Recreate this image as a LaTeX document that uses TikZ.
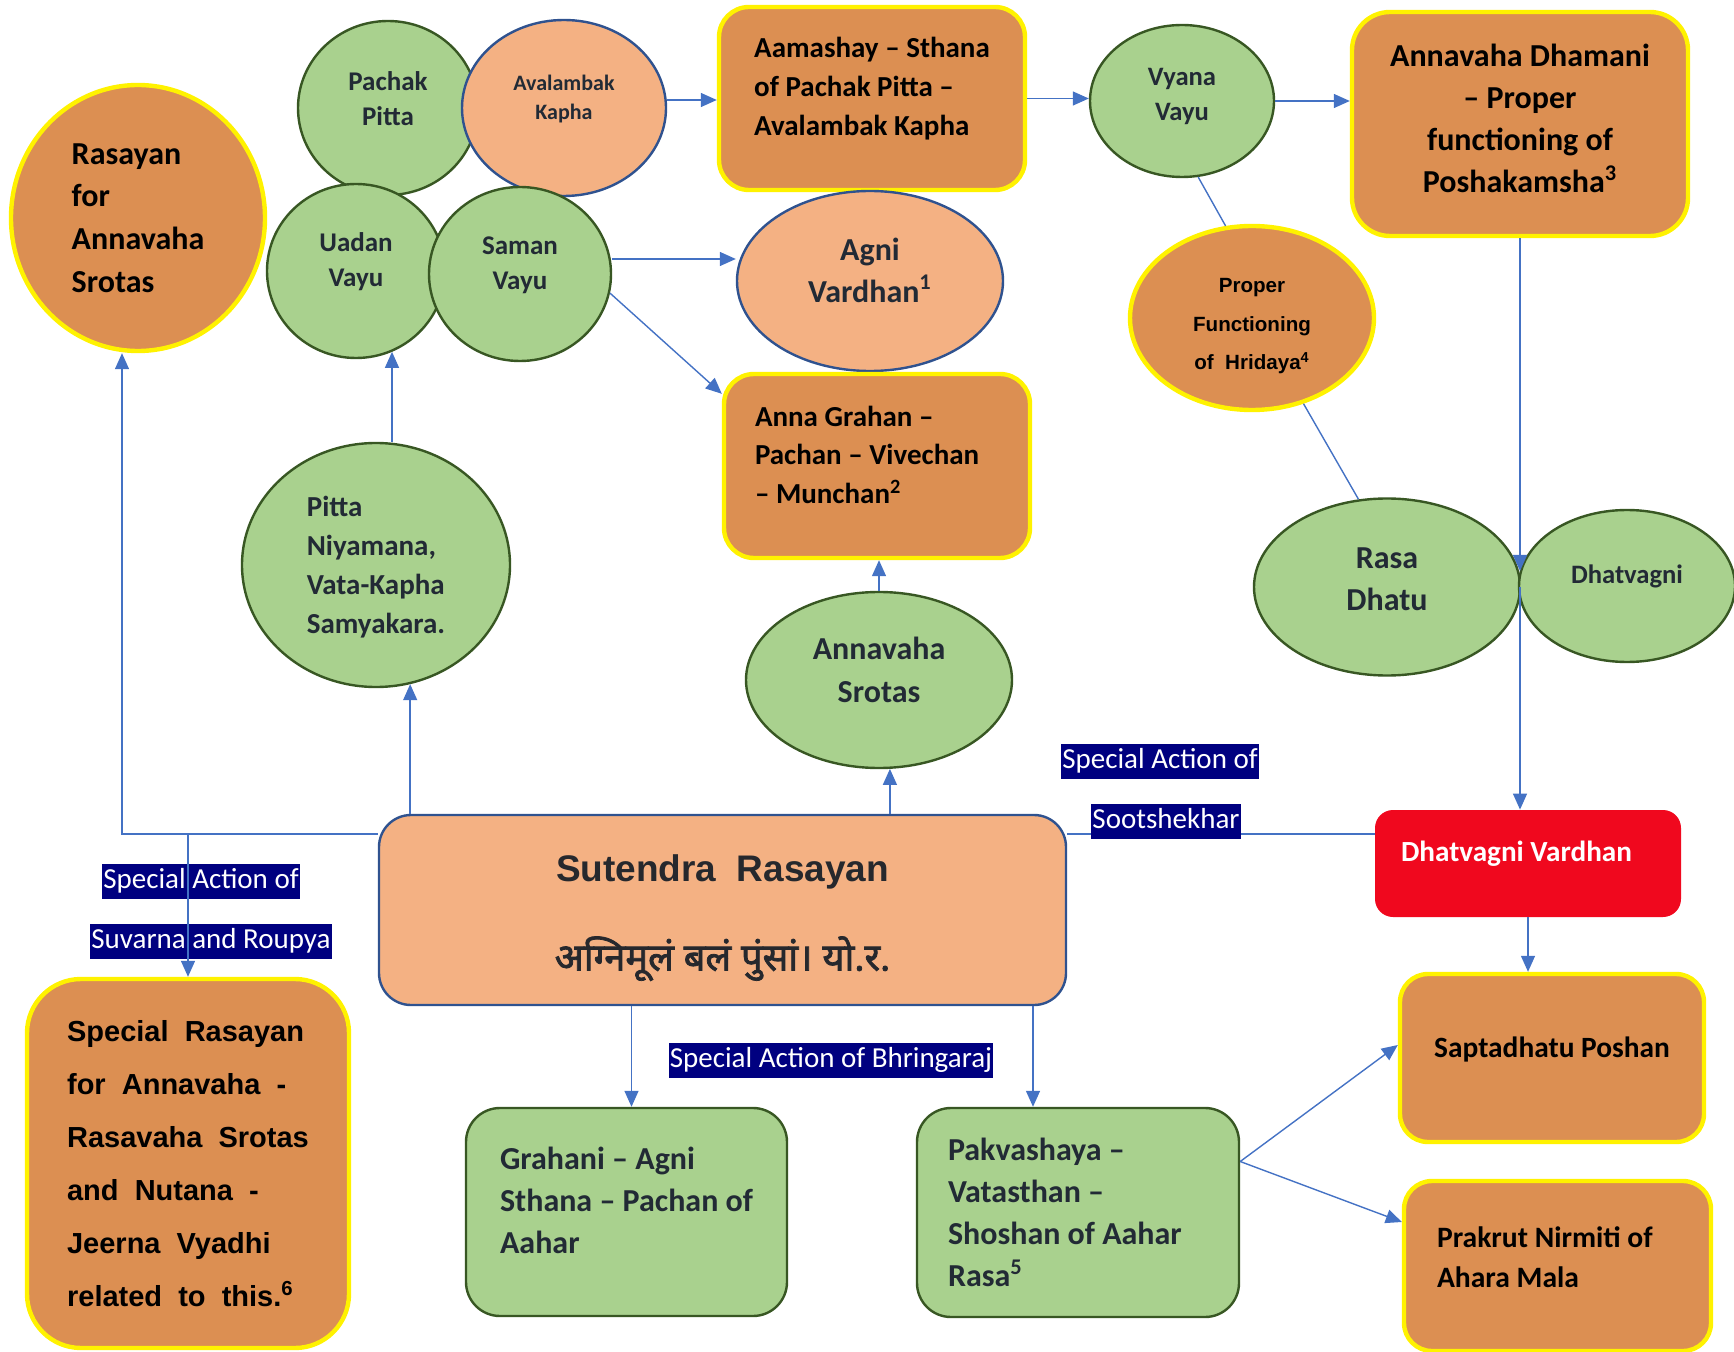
\documentclass[tikz,border=0pt]{standalone}
\usepackage{fontspec}
\setmainfont{Carlito}
\newfontfamily\arialfont{Liberation Sans}
\newfontfamily\devafont[Script=Devanagari, FakeBold=2]{Noto Sans}
\usetikzlibrary{arrows.meta,shapes.geometric}
\definecolor{lgreen}{RGB}{169,209,142}
\definecolor{ggreen}{RGB}{56,87,35}
\definecolor{salmon}{RGB}{244,177,131}
\definecolor{dblue}{RGB}{47,82,143}
\definecolor{dorange}{RGB}{220,143,82}
\definecolor{dred}{RGB}{240,8,30}
\definecolor{navy}{RGB}{0,0,128}
\definecolor{cblue}{RGB}{68,114,196}
\definecolor{dtext}{RGB}{34,42,53}
\definecolor{stext}{RGB}{38,40,45}
\begin{document}
\begin{tikzpicture}[x=0.5pt, y=-0.5pt,
  gell/.style={ellipse, draw=ggreen, line width=1.2pt, fill=lgreen, text=dtext, inner sep=0pt, align=center},
  sell/.style={ellipse, draw=dblue, line width=1.2pt, fill=salmon, text=dtext, inner sep=0pt, align=center},
  oell/.style={ellipse, draw=yellow, line width=2.2pt, fill=dorange, inner sep=0pt, align=center},
  obox/.style={draw=yellow, line width=2.2pt, fill=dorange, rounded corners=15pt, inner sep=0pt, align=left},
  gbox/.style={draw=ggreen, line width=1.2pt, fill=lgreen, text=dtext, rounded corners=17pt, inner sep=0pt, align=left},
  tag/.style={fill=navy, text=white, font=\fontsize{14.5}{17}\selectfont, inner xsep=0.5pt, inner ysep=1.5pt, text height=11pt, text depth=3.5pt},
  lift/.style={text depth=#1},
  arr/.style={cblue, line width=0.7pt, -{Triangle[length=8pt, width=7pt]}},
  lnk/.style={cblue, line width=0.7pt}]
\useasboundingbox (0,0) rectangle (1734,1352);
% Rasayan (left circle)
\node[oell, minimum width=127pt, minimum height=133pt, align=left, font=\bfseries\fontsize{16}{21.3}\selectfont] (ras) at (138,218) {Rasayan\\for\\Annavaha\\Srotas};
% doshas cluster
\node[gell, lift=9pt, minimum width=90pt, minimum height=87pt, font=\bfseries\fontsize{13.5}{17.5}\selectfont] (pachak) at (388,108) {Pachak\\Pitta};
\node[sell, lift=11pt, minimum width=102pt, minimum height=88pt, font=\bfseries\fontsize{11}{14.5}\selectfont] (aval) at (564,108) {Avalambak\\Kapha};
\node[gell, lift=11pt, minimum width=89pt, minimum height=87pt, font=\bfseries\fontsize{13.5}{17.5}\selectfont] (uadan) at (356,271) {Uadan\\Vayu};
\node[gell, lift=11pt, minimum width=91pt, minimum height=87pt, font=\bfseries\fontsize{13.5}{17.5}\selectfont] (saman) at (520,274) {Saman\\Vayu};
% Aamashay and Agni
\node[obox, lift=12pt, minimum width=153pt, minimum height=91.5pt, font=\bfseries\fontsize{14.5}{19.4}\selectfont] (aama) at (872,98.5) {Aamashay – Sthana\\of Pachak Pitta –\\Avalambak Kapha};
\node[sell, lift=11pt, minimum width=133pt, minimum height=90pt, font=\bfseries\fontsize{16}{21}\selectfont] (agni) at (870,281) {Agni\\Vardhan\textsuperscript{1}};
\node[obox, lift=50pt, minimum width=153pt, minimum height=92pt, inner xsep=15.5pt, text width=122pt, align=flush left, font=\bfseries\fontsize{14.5}{19.4}\selectfont] (grahan) at (877,466) {Anna Grahan –\\Pachan – Vivechan\\– Munchan\textsuperscript{2}};
% Vyana side
\node[gell, lift=6.5pt, minimum width=92pt, minimum height=76pt, font=\bfseries\fontsize{13.3}{17.5}\selectfont] (vyana) at (1182,101) {Vyana\\Vayu};
\node[obox, lift=5.5pt, rounded corners=19pt, minimum width=168pt, minimum height=112pt, align=center, font=\bfseries\fontsize{16}{21}\selectfont] (dham) at (1520,124) {Annavaha Dhamani\\– Proper\\functioning of\\Poshakamsha\textsuperscript{3}};
\node[oell, text height=52pt, text depth=0pt, minimum width=122pt, minimum height=92pt, font=\arialfont\bfseries\fontsize{10.3}{19.4}\selectfont] (hrid) at (1252,318) {Proper\\Functioning\\of\ \ Hridaya\textsuperscript{4}};
\node[gell, lift=8pt, minimum width=133pt, minimum height=88.5pt, font=\bfseries\fontsize{16}{21}\selectfont] (rasa) at (1387,587) {Rasa\\Dhatu};
\node[gell, lift=12pt, minimum width=108pt, minimum height=76pt, font=\bfseries\fontsize{13.3}{17}\selectfont] (dhatv) at (1627,586) {Dhatvagni};
% middle ellipses
\node[gell, lift=0pt, minimum width=134pt, minimum height=122pt, align=left, font=\bfseries\fontsize{14.5}{19.4}\selectfont] (pitta) at (376,565) {Pitta\\Niyamana,\\Vata-Kapha\\Samyakara.};
\node[gell, lift=10pt, minimum width=133pt, minimum height=88pt, font=\bfseries\fontsize{16}{21.5}\selectfont] (srotas) at (879,680) {Annavaha\\Srotas};
% Sutendra Rasayan
\node[draw=dblue, line width=1.2pt, fill=salmon, text=stext, rounded corners=16pt, minimum width=343.5pt, minimum height=95pt, text height=60.5pt, text depth=0pt, align=center, font=\arialfont\bfseries\fontsize{18.5}{44.5}\selectfont] (sut) at (722.5,910) {Sutendra\hspace{0.55em}Rasayan\\{\devafont\fontsize{19}{44.5}\selectfont अग्निमूलं बलं पुंसां। यो.र.}};
% right column
\node[fill=dred, text=white, lift=12pt, rounded corners=9pt, minimum width=153pt, minimum height=53.5pt, inner xsep=13pt, text width=127pt, align=flush left, font=\bfseries\fontsize{14.6}{18}\selectfont] (dv) at (1528,863.5) {Dhatvagni Vardhan};
\node[obox, lift=11pt, rounded corners=14pt, minimum width=152pt, minimum height=84pt, font=\bfseries\fontsize{14.7}{18}\selectfont] (sapta) at (1552,1058) {Saptadhatu Poshan};
\node[obox, lift=29pt, rounded corners=14pt, minimum width=153.5pt, minimum height=85pt, inner xsep=16.5pt, text width=120.5pt, align=flush left, font=\bfseries\fontsize{14.8}{20}\selectfont] (prak) at (1557.5,1266) {Prakrut Nirmiti of\\Ahara Mala};
% bottom boxes
\node[obox, rounded corners=27pt, minimum width=161pt, minimum height=184.5pt, font=\arialfont\bfseries\fontsize{14.5}{26.5}\selectfont] (sprs) at (188,1163.5) {Special\ \ Rasayan\\for\ \ Annavaha\ \ -\\Rasavaha\ \ Srotas\\and\ \ Nutana\ \ -\\Jeerna\ \ Vyadhi\\related\ \ to\ \ this.\textsuperscript{6}};
\node[gbox, lift=12pt, minimum width=160.5pt, minimum height=104pt, font=\bfseries\fontsize{16}{21}\selectfont] (grahani) at (626.5,1212) {Grahani – Agni\\Sthana – Pachan of\\Aahar};
\node[gbox, minimum width=161pt, minimum height=104.5pt, inner xsep=15.5pt, text width=130pt, align=flush left, font=\bfseries\fontsize{16}{21}\selectfont] (pakva) at (1078,1212.5) {Pakvashaya –\\Vatasthan –\\Shoshan of Aahar\\Rasa\textsuperscript{5}};
% labels
\node[tag] (tsuv1) at (201,881) {Special Action of};
\node[tag] (tsuv2) at (211,941) {Suvarna and Roupya};
\node[tag] (tbhr) at (831,1060) {Special Action of Bhringaraj};
% connectors
\coordinate (lj) at (122,834);
\draw[arr] ([yshift=4pt]aval.east) -- ([yshift=4pt]aval.east -| aama.west);
\draw[arr] (aama.east) -- (aama.east -| vyana.west);
\draw[arr] (vyana.east) -- (vyana.east -| dham.west);
\draw[arr] ([yshift=7.5pt]saman.east) -- ([yshift=7.5pt]saman.east -| agni.west);
\draw[arr] (saman.-12) -- ([yshift=-11pt]grahan.north west);
\draw[lnk] (vyana.-78) -- (hrid.106);
\draw[lnk] (hrid.-59) -- (rasa.108);
\draw[arr] (dham.south) -- ([yshift=8pt]rasa.east -| dham.south);
\draw[arr] (rasa.east -| dham.south) -- (dv.north -| dham.south);
\draw[arr] (dv.south) -- (dv.south |- sapta.north);
\draw[arr] ([yshift=25.5pt]pakva.east) -- ([yshift=6.5pt]sapta.west);
\draw[arr] ([yshift=25.5pt]pakva.east) -- ([yshift=22pt]prak.west);
\draw[arr] (srotas.-83 |- sut.north) -- (srotas.-83);
\draw[arr] (srotas.north) -- (srotas.north |- grahan.south);
\draw[arr] (pitta.-74 |- sut.north) -- (pitta.-74);
\draw[arr] (uadan.-66 |- pitta.north) -- (uadan.-66);
\draw[arr] (lj -| sut.west) -- (lj) -- (lj |- ras.south);
\draw[arr] (sprs.north |- lj) -- (sprs.north);
\draw[arr] ([xshift=2.5pt]grahani.north |- sut.south) -- ([xshift=2.5pt]grahani.north);
\draw[arr] ([xshift=-22.5pt]pakva.north |- sut.south) -- ([xshift=-22.5pt]pakva.north);
\draw[lnk] (sut.east |- lj) -- (dv.west |- lj);
% Sootshekhar labels over the line
\node[tag] (tsoo1) at (1160,761) {Special Action of};
\node[tag] (tsoo2) at (1166,821) {Sootshekhar};
\end{tikzpicture}
\end{document}
